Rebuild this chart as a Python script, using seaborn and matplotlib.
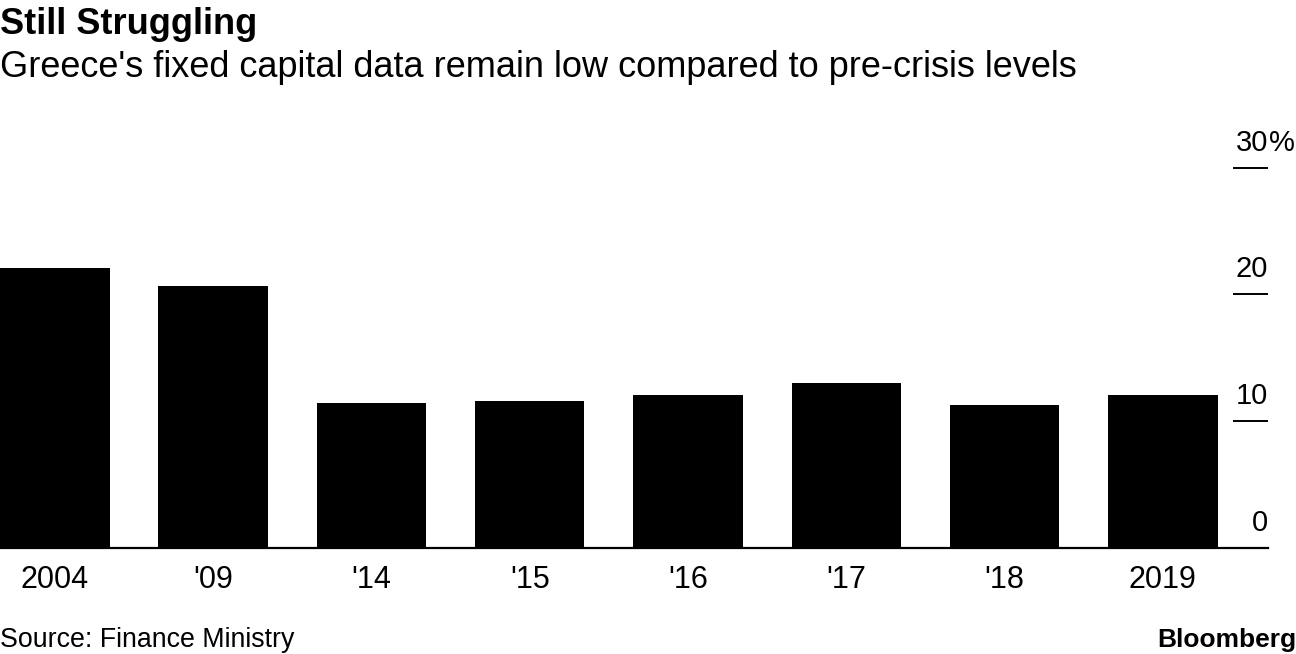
import pandas as pd
import numpy as np
import matplotlib
import matplotlib.pyplot as plt
import matplotlib.transforms as mtransforms
import seaborn as sns

sns.set_style("white")
plt.rcParams["font.family"] = ["Liberation Sans", "DejaVu Sans"]
plt.rcParams["text.color"] = "black"
plt.rcParams["xtick.color"] = "black"
plt.rcParams["ytick.color"] = "black"

# fixed capital formation, % of GDP
years = ["2004", "'09", "'14", "'15", "'16", "'17", "'18", "2019"]
values = [22.05, 20.65, 11.45, 11.6, 12.05, 13.0, 11.3, 12.05]
ytick_vals = [0, 10, 20, 30]
ytick_labels = ["0", "10", "20", "30"]

df = pd.DataFrame({"year": years, "value": values})

fig = plt.figure(figsize=(12.96, 6.54), dpi=100)
ax = fig.add_axes([0, 1 - 548 / 654, 1268 / 1296, (548 - 167.7) / 654])

sns.barplot(data=df, x="year", y="value", color="black", saturation=1,
            width=0.692, edgecolor="none", ax=ax)

ax.set_xlim(-0.346, 7.664)
ax.set_ylim(0, 30)
ax.set_xlabel("")
ax.set_ylabel("")

for s in ["top", "left", "right"]:
    ax.spines[s].set_visible(False)
ax.spines["bottom"].set_linewidth(1.6)
ax.spines["bottom"].set_color("black")

# short tick marks on the right, labels sit above them
ax.yaxis.tick_right()
ax.set_yticks(ytick_vals)
ax.tick_params(axis="y", direction="in", length=25.2, width=1.4,
               color="black", labelright=False, labelleft=False)
ax.tick_params(axis="x", length=0, labelsize=22, pad=12, colors="black")

trans = mtransforms.blended_transform_factory(ax.transAxes, ax.transData)
for v, lab in zip(ytick_vals, ytick_labels):
    ax.annotate(lab, xy=(1.0, v), xycoords=trans, xytext=(0, 12.3),
                textcoords="offset points", ha="right", va="baseline",
                fontsize=21, color="black", annotation_clip=False)
ax.annotate("%", xy=(1.0, 30), xycoords=trans, xytext=(0.5, 12.3),
            textcoords="offset points", ha="left", va="baseline",
            fontsize=21, color="black", annotation_clip=False)

fig.text(0.0, 1 - 34 / 654, "Still Struggling", fontsize=26, fontweight="bold",
         ha="left", va="baseline")
fig.text(0.0, 1 - 77 / 654,
         "Greece's fixed capital data remain low compared to pre-crisis levels",
         fontsize=26, ha="left", va="baseline")
fig.text(0.0, 1 - 647 / 654, "Source: Finance Ministry", fontsize=19.3,
         ha="left", va="baseline")
fig.text(1.0, 1 - 647 / 654, "Bloomberg", fontsize=19, fontweight="bold",
         ha="right", va="baseline")

fig.savefig("out.png", dpi=100)
